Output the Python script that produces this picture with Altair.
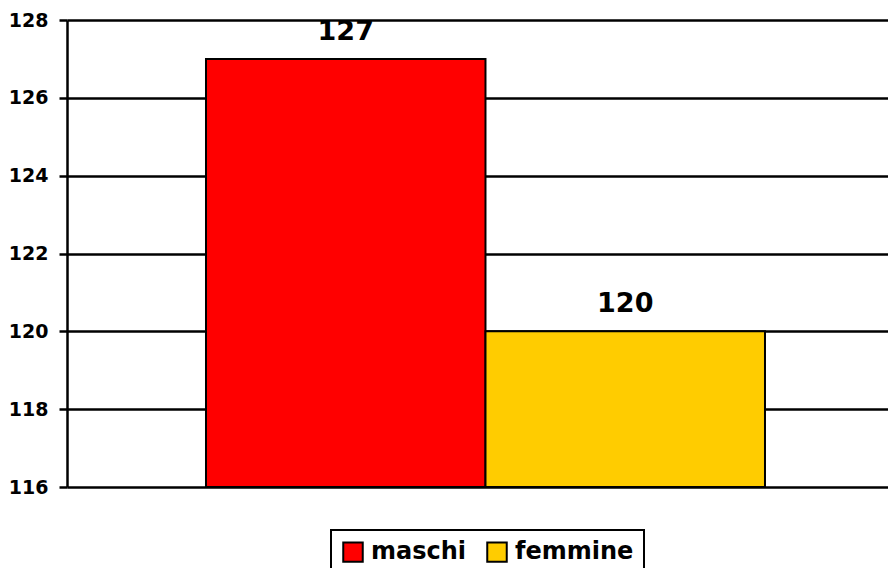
import altair as alt
import pandas as pd

categories = ["maschi", "femmine"]
values = [127, 120]
colors = ["#FF0000", "#FFCC00"]
y_ticks = [116, 118, 120, 122, 124, 126, 128]

df = pd.DataFrame({"sesso": categories, "valore": values})

FONT = "DejaVu Sans"

x = alt.X(
    "sesso:N",
    sort=categories,
    axis=None,
    scale=alt.Scale(paddingInner=0, paddingOuter=0.4687, align=0.5305),
)

bars = alt.Chart(df).mark_bar(stroke="black", strokeWidth=2).encode(
    x=x,
    y=alt.Y(
        "valore:Q",
        scale=alt.Scale(domain=[116, 128], nice=False, zero=False),
        axis=alt.Axis(
            values=y_ticks,
            title=None,
            grid=True,
            gridColor="black",
            gridWidth=2.5,
            gridOpacity=1,
            domainColor="black",
            domainWidth=2.5,
            tickColor="black",
            tickWidth=2.5,
            tickSize=8,
            labelFont=FONT,
            labelFontWeight="bold",
            labelFontSize=19,
            labelColor="black",
            labelPadding=11,
        ),
    ),
    y2=alt.datum(116),
    color=alt.Color(
        "sesso:N",
        sort=categories,
        scale=alt.Scale(domain=categories, range=colors),
        legend=alt.Legend(
            title=None,
            orient="none",
            direction="horizontal",
            legendX=264,
            legendY=510,
            symbolType="square",
            symbolSize=380,
            symbolStrokeColor="black",
            symbolStrokeWidth=2,
            symbolOpacity=1,
            labelFont=FONT,
            labelFontWeight="bold",
            labelFontSize=24,
            labelColor="black",
            labelOffset=6,
            columnPadding=16,
            strokeColor="black",
            padding=10,
            fillColor="white",
        ),
    ),
)

labels = alt.Chart(df).mark_text(
    font=FONT, fontWeight="bold", fontSize=27, color="black",
    baseline="alphabetic", dy=-19,
).encode(
    x=x,
    y=alt.Y("valore:Q"),
    text=alt.Text("valore:Q"),
)

chart = (
    alt.layer(bars, labels)
    .properties(
        width=821,
        height=467,
        autosize=alt.AutoSizeParams(type="none"),
        padding={"left": 59, "top": 12, "right": 0, "bottom": 81},
    )
    .configure_view(stroke=None)
    .configure_legend(strokeWidth=2)
)

chart.save("out.html", embed_options={"renderer": "svg", "actions": False})
